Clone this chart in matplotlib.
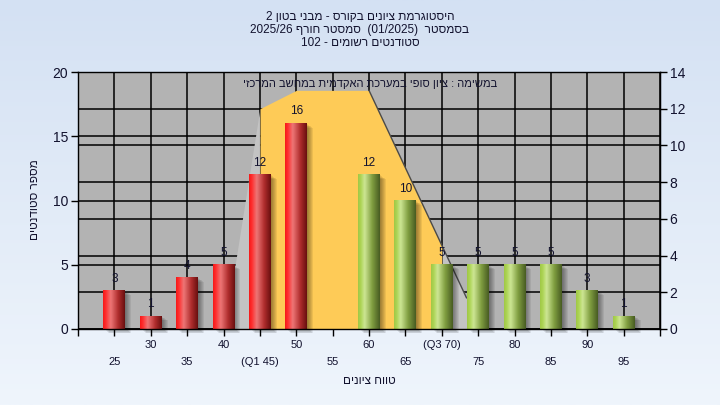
import numpy as np
import matplotlib
matplotlib.use('Agg')
import matplotlib.pyplot as plt
from matplotlib import transforms
from matplotlib.patches import Rectangle

plt.rcParams['font.family'] = ['Liberation Sans', 'DejaVu Sans']

# ---------------- data ----------------
bins = [25, 30, 35, 40, 45, 50, 55, 60, 65, 70, 75, 80, 85, 90, 95]
counts = [3, 1, 4, 5, 12, 16, 0, 12, 10, 5, 5, 5, 5, 3, 1]
tick_labels = ['25', '30', '35', '40', '(Q1 45)', '50', '55', '60', '65',
               '(Q3 70)', '75', '80', '85', '90', '95']
q1, q3 = 45, 70
# shape of the distribution outline (right-axis units)
curve_x = [40.2, 45, 50, 60, 73.4]
curve_y = [0, 12, 13, 13, 1.7]
left_ticks = [0, 5, 10, 15, 20]
right_ticks = [0, 2, 4, 6, 8, 10, 12, 14]

title_lines = ['היסטוגרמת ציונים בקורס - מבני בטון 2',
               'בסמסטר  (01/2025)  סמסטר חורף 2025/26',
               'סטודנטים רשומים - 102']
note = 'במשימה : ציון סופי במערכת האקדמית במחשב המרכזי'
xlabel = 'טווח ציונים'
ylabel = 'מספר סטודנטים'


def vis(s):
    """Convert logical RTL string to visual order for LTR rendering."""
    toks = s.split(' ')
    out = []
    for t in reversed(toks):
        if any('\u0590' <= c <= '\u05ff' for c in t):
            t = t[::-1]
        out.append(t)
    return ' '.join(out)


TXT = '#12122e'
W, H = 720, 405
fig = plt.figure(figsize=(7.2, 4.05), dpi=100)

# background gradient
bg = fig.add_axes([0, 0, 1, 1], zorder=-10)
top = np.array([212, 225, 243]) / 255
bot = np.array([239, 245, 252]) / 255
t = np.linspace(0, 1, 256)[:, None, None]
bg.imshow(top * (1 - t) + bot * t, aspect='auto', extent=[0, 1, 0, 1])
bg.axis('off')

ax = fig.add_axes([78 / W, 1 - 329 / H, 582 / W, 257 / H])
ax.set_facecolor('#b3b3b3')
XMIN, XMAX = 20, 100
YMAX, RMAX = 20, 14
scale = YMAX / RMAX

# grid
for x in range(XMIN, XMAX + 1, 5):
    ax.axvline(x, color='black', lw=1.1, zorder=1)
for y in left_ticks:
    ax.axhline(y, color='black', lw=1.1, zorder=1)
for y in right_ticks:
    ax.axhline(y * scale, color='black', lw=1.1, zorder=1)

# distribution shape
xs = np.linspace(curve_x[0], curve_x[-1], 400)
ys = np.interp(xs, curve_x, curve_y) * scale
ax.fill_between(xs, 0, ys, where=(xs <= q1 + 1e-9), color='#c3c3c3', lw=0, zorder=2)
ax.fill_between(xs, 0, ys, where=(xs >= q3 - 1e-9), color='#c3c3c3', lw=0, zorder=2)
ax.fill_between(xs, 0, ys, where=(xs >= q1) & (xs <= q3), color='#fecb57', lw=0, zorder=2)
ax.plot(curve_x[-2:], np.array(curve_y[-2:]) * scale, color='#4a4a4a', lw=1, zorder=2.5)


def grad(stops):
    pos = [p for p, _ in stops]
    cols = np.array([c for _, c in stops]) / 255
    xx = np.linspace(0, 1, 64)
    g = np.stack([np.interp(xx, pos, cols[:, k]) for k in range(3)], axis=-1)
    return g[None, :, :]


red = grad([(0, (245, 25, 25)), (0.12, (255, 45, 45)), (0.35, (238, 118, 118)),
            (0.7, (175, 45, 45)), (1, (105, 15, 15))])
green = grad([(0, (160, 200, 70)), (0.12, (172, 212, 84)), (0.3, (205, 230, 148)),
              (0.65, (128, 158, 64)), (1, (72, 92, 34))])

bw = 3.0
for x, v in zip(bins, counts):
    if v == 0:
        continue
    # drop shadow
    for d in range(1, 7):
        tr = transforms.offset_copy(ax.transData, fig=fig, x=d, y=-d * 0.7, units='dots')
        ax.add_patch(Rectangle((x - bw / 2, 0), bw, v, transform=tr, facecolor='black',
                               alpha=0.07, lw=0, zorder=3, clip_on=False))
    g = red if x < 55 else green
    ax.imshow(g, extent=[x - bw / 2, x + bw / 2, 0, v], aspect='auto',
              interpolation='bilinear', zorder=4)
    ax.annotate(str(v), (x, v), xytext=(0, 8.6), textcoords='offset points',
                ha='center', va='center', fontsize=8.5, color=TXT, zorder=6)

ax.set_xlim(XMIN, XMAX)
ax.set_ylim(0, YMAX)
ax.set_aspect('auto')

ax.set_xticks(range(XMIN, XMAX + 1, 5))
ax.set_xticklabels([])
ax.set_yticks(left_ticks)
ax.tick_params(axis='y', labelsize=10, length=5, width=1, colors='black', labelcolor=TXT, pad=2)
ax.tick_params(axis='x', length=5, width=1, colors='black')
for s in ax.spines.values():
    s.set_color('black')
    s.set_linewidth(1)
    s.set_zorder(7)

# staggered x labels
for i, (x, lab) in enumerate(zip(bins, tick_labels)):
    yoff = -33 / 257 if i % 2 == 0 else -16 / 257
    ax.text(x, yoff, lab, transform=ax.get_xaxis_transform(), ha='center', va='center',
            fontsize=8, color=TXT)

ax.text(60.1, 19.07, vis(note), ha='center', va='center', fontsize=8, color=TXT, zorder=6)

ax2 = ax.twinx()
ax2.set_ylim(0, RMAX)
ax2.set_yticks(right_ticks)
ax2.tick_params(axis='y', labelsize=10, length=5, width=1, colors='black', labelcolor=TXT, pad=2)
for s in ax2.spines.values():
    s.set_visible(False)
ax2.spines['right'].set_visible(True)
ax2.spines['right'].set_color('black')

# titles and axis labels
for k, (line, ypx) in enumerate(zip(title_lines, [17, 30, 43])):
    fig.text(0.5, 1 - ypx / H, vis(line), ha='center', va='center', fontsize=8.5, color=TXT)
fig.text(369 / W, 1 - 381 / H, vis(xlabel), ha='center', va='center', fontsize=8.5, color=TXT)
fig.text(35 / W, 1 - 200 / H, vis(ylabel), ha='center', va='center', fontsize=8.5,
         rotation=90, color=TXT)

fig.savefig('out.png', dpi=100)
